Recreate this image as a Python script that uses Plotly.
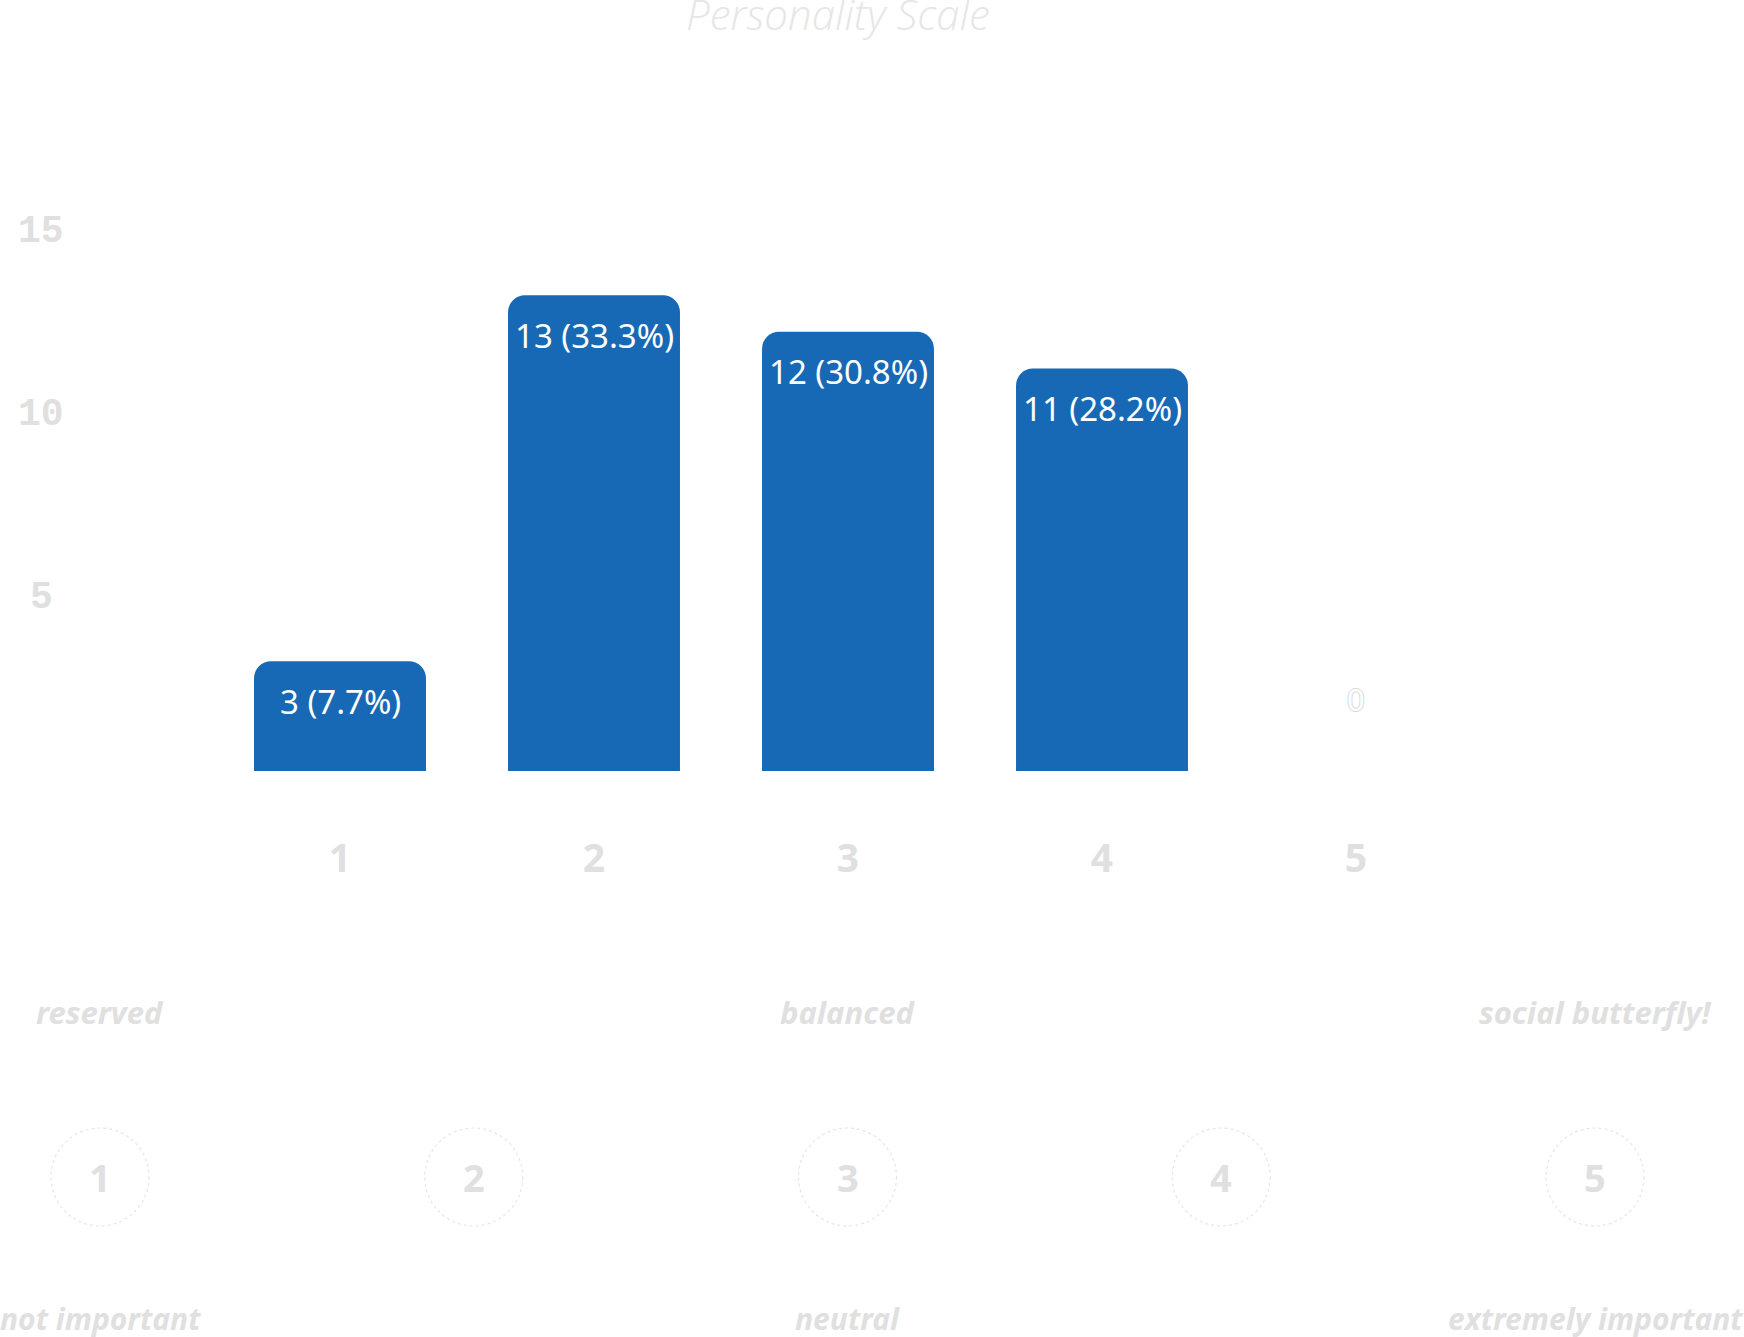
import plotly.graph_objects as go

# ---- data ----
categories = [1, 2, 3, 4, 5]
counts = [3, 13, 12, 11, 0]
x_tick_labels = ["1", "2", "3", "4", "5"]
y_tick_vals = [5, 10, 15]
y_tick_labels = ["5", "10", "15"]
scale_numbers = ["1", "2", "3", "4", "5"]
scale_top_labels = ["reserved", "", "balanced", "", "social butterfly!"]
scale_bottom_labels = ["not important", "", "neutral", "", "extremely important"]
title_text = "Personality Scale"

total = sum(counts)
bar_labels = [f"{v} ({v / total * 100:.1f}%)" if v > 0 else f"{v}" for v in counts]

# ---- geometry (pixels of the 1744x1337 page) ----
W, H = 1744, 1337
M_T, M_B = 100, 566
PLOT_H = H - M_T - M_B
PX_PER_UNIT = 36.6
Y_MAX = PLOT_H / PX_PER_UNIT
BASE_PX = H - M_B


def py_to_paper(py):
    return (BASE_PX - py) / PLOT_H


LABEL_COLOR = "#e0e0e0"
BAR_COLOR = "#1769b5"

fig = go.Figure()
fig.add_trace(go.Bar(
    x=categories, y=counts, width=0.677,
    marker=dict(color=BAR_COLOR, line=dict(width=0)),
    hoverinfo="skip", showlegend=False,
))

annotations = []
for c, v, lab in zip(categories, counts, bar_labels):
    if v > 0:
        annotations.append(dict(
            x=c, y=v, xref="x", yref="y", text=lab, showarrow=False,
            xanchor="center", yanchor="middle", yshift=-40,
            font=dict(family="Noto Sans", size=33, color="white"),
        ))
    else:
        annotations.append(dict(
            x=c, y=v, xref="x", yref="y", text=lab, showarrow=False,
            xanchor="center", yanchor="middle", yshift=72,
            font=dict(family="Noto Sans", size=31, color="white",
                      shadow="1px 0 0 #d8d8d8, -1px 0 0 #d8d8d8, 0 1px 0 #d8d8d8, 0 -1px 0 #d8d8d8"),
        ))

# y tick labels (centred, as in the reference)
for v, t in zip(y_tick_vals, y_tick_labels):
    annotations.append(dict(
        x=41 / W, y=v, xref="paper", yref="y", text=t, showarrow=False,
        xanchor="center", yanchor="middle", yshift=-9,
        font=dict(family="Liberation Mono", size=38, color=LABEL_COLOR, weight="bold"),
    ))

# scale legend below the chart
scale_x_px = [100 + i * 373.75 for i in range(5)]
circle_r = 49
circle_cy = 1177
shapes = []
for i, num in enumerate(scale_numbers):
    cx = scale_x_px[i]
    shapes.append(dict(
        type="circle", xref="paper", yref="paper",
        x0=(cx - circle_r) / W, x1=(cx + circle_r) / W,
        y0=py_to_paper(circle_cy + circle_r), y1=py_to_paper(circle_cy - circle_r),
        line=dict(color="#e6e6e6", width=1.2, dash="dot"),
    ))
    annotations.append(dict(
        x=cx / W, y=py_to_paper(circle_cy), xref="paper", yref="paper",
        text=num, showarrow=False, xanchor="center", yanchor="middle",
        font=dict(family="Noto Sans", size=38, color=LABEL_COLOR, weight="bold"),
    ))
    if scale_top_labels[i]:
        annotations.append(dict(
            x=cx / W, y=py_to_paper(1012), xref="paper", yref="paper",
            text=scale_top_labels[i], showarrow=False, xanchor="center", yanchor="middle",
            font=dict(family="Noto Sans", size=31, color=LABEL_COLOR, weight="bold", style="italic"),
        ))
    if scale_bottom_labels[i]:
        annotations.append(dict(
            x=cx / W, y=py_to_paper(1318), xref="paper", yref="paper",
            text=scale_bottom_labels[i], showarrow=False, xanchor="center", yanchor="middle",
            font=dict(family="Noto Sans", size=30, color=LABEL_COLOR, weight="bold", style="italic"),
        ))

fig.update_layout(
    width=W, height=H,
    margin=dict(l=0, r=0, t=M_T, b=M_B, pad=0),
    paper_bgcolor="white", plot_bgcolor="white",
    barcornerradius=17,
    title=dict(
        text=title_text, x=838 / W, xanchor="center", xref="paper",
        y=1 - 15 / H, yref="container", yanchor="middle",
        font=dict(family="Open Sans", size=42, color="#e6e6e6", style="italic", weight=300),
    ),
    xaxis=dict(
        domain=[213 / W, 1483 / W], range=[0.5, 5.5],
        tickmode="array", tickvals=categories, ticktext=x_tick_labels,
        showgrid=False, zeroline=False, showline=False, ticks="",
        ticklabelstandoff=61,
        tickfont=dict(family="Noto Sans", size=39, color=LABEL_COLOR, weight="bold"),
        fixedrange=True,
    ),
    yaxis=dict(
        range=[0, Y_MAX],
        tickmode="array", tickvals=y_tick_vals, ticktext=y_tick_labels,
        showticklabels=False,
        showgrid=False, zeroline=False, showline=False, ticks="",
        fixedrange=True,
    ),
    annotations=annotations,
    shapes=shapes,
)

fig.write_html(
    "out.html",
    config={"displayModeBar": False},
    post_script="document.body.style.margin='0';document.body.style.padding='0';",
)
